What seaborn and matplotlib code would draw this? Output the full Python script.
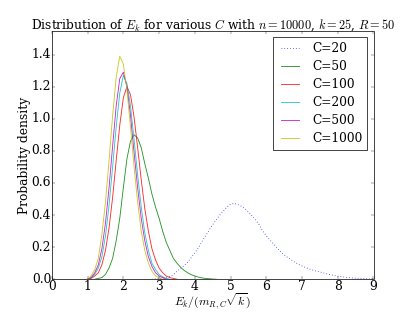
import matplotlib
matplotlib.use("Agg")
import matplotlib.pyplot as plt
import seaborn as sns
import pandas as pd

# Histogram values (probability density per E_k bin)
x_1000 = [1.0, 1.1, 1.2, 1.3, 1.4, 1.5, 1.6, 1.7, 1.8, 1.9, 2.0, 2.1, 2.2, 2.3, 2.4, 2.5,
          2.6, 2.7, 2.8, 2.9, 3.0, 3.1]
y_1000 = [0.0, 0.02, 0.06, 0.13, 0.28, 0.48, 0.74, 1.02, 1.26, 1.39, 1.34, 1.18, 0.95, 0.70,
          0.48, 0.30, 0.18, 0.10, 0.05, 0.02, 0.01, 0.0]

x_500 = [1.0, 1.1, 1.2, 1.3, 1.4, 1.5, 1.6, 1.7, 1.8, 1.9, 2.0, 2.1, 2.2, 2.3, 2.4, 2.5,
         2.6, 2.7, 2.8, 2.9, 3.0, 3.1, 3.2]
y_500 = [0.0, 0.01, 0.04, 0.09, 0.19, 0.35, 0.57, 0.83, 1.08, 1.25, 1.29, 1.20, 1.02, 0.79,
         0.57, 0.38, 0.24, 0.14, 0.08, 0.04, 0.02, 0.01, 0.0]

x_200 = [1.0, 1.1, 1.2, 1.3, 1.4, 1.5, 1.6, 1.7, 1.8, 1.9, 2.0, 2.1, 2.2, 2.3, 2.4, 2.5,
         2.6, 2.7, 2.8, 2.9, 3.0, 3.1, 3.2, 3.3]
y_200 = [0.0, 0.01, 0.03, 0.07, 0.14, 0.27, 0.46, 0.70, 0.95, 1.16, 1.27, 1.22, 1.08, 0.87,
         0.65, 0.45, 0.29, 0.18, 0.10, 0.06, 0.03, 0.015, 0.005, 0.0]

x_100 = [1.0, 1.1, 1.2, 1.3, 1.4, 1.5, 1.6, 1.7, 1.8, 1.9, 2.0, 2.1, 2.2, 2.3, 2.4, 2.5,
         2.6, 2.7, 2.8, 2.9, 3.0, 3.1, 3.2, 3.3, 3.4, 3.5]
y_100 = [0.0, 0.005, 0.02, 0.04, 0.09, 0.18, 0.32, 0.51, 0.74, 0.96, 1.13, 1.20, 1.15, 1.01,
         0.82, 0.62, 0.44, 0.30, 0.19, 0.12, 0.07, 0.04, 0.02, 0.01, 0.005, 0.0]

x_50 = [1.2, 1.3, 1.4, 1.5, 1.6, 1.7, 1.8, 1.9, 2.0, 2.1, 2.2, 2.3, 2.4, 2.5, 2.6, 2.7,
        2.8, 2.9, 3.0, 3.1, 3.2, 3.3, 3.4, 3.5, 3.6, 3.7, 3.8, 3.9, 4.0, 4.1, 4.2, 4.3,
        4.4, 4.5, 4.6]
y_50 = [0.0, 0.005, 0.01, 0.03, 0.07, 0.13, 0.24, 0.38, 0.57, 0.75, 0.86, 0.90, 0.88, 0.82,
        0.72, 0.63, 0.53, 0.45, 0.38, 0.30, 0.23, 0.18, 0.13, 0.10, 0.075, 0.055, 0.04,
        0.028, 0.02, 0.013, 0.008, 0.005, 0.003, 0.001, 0.0]

x_20 = [2.8, 2.9, 3.0, 3.1, 3.2, 3.3, 3.4, 3.5, 3.6, 3.7, 3.8, 3.9, 4.0, 4.1, 4.2, 4.3,
        4.4, 4.5, 4.6, 4.7, 4.8, 4.9, 5.0, 5.1, 5.2, 5.3, 5.4, 5.5, 5.6, 5.7, 5.8, 5.9,
        6.0, 6.1, 6.2, 6.3, 6.4, 6.5, 6.6, 6.7, 6.8, 6.9, 7.0, 7.1, 7.2, 7.3, 7.4, 7.5,
        7.6, 7.7, 7.8, 7.9, 8.0, 8.1, 8.2, 8.3, 8.4, 8.5, 8.6, 8.7, 8.8, 8.9, 9.0]
y_20 = [0.0, 0.002, 0.004, 0.007, 0.012, 0.018, 0.027, 0.05, 0.066, 0.085, 0.107, 0.134,
        0.165, 0.195, 0.235, 0.27, 0.305, 0.34, 0.37, 0.40, 0.425, 0.45, 0.468, 0.472,
        0.466, 0.455, 0.44, 0.42, 0.395, 0.37, 0.34, 0.30, 0.27, 0.245, 0.22, 0.195,
        0.172, 0.152, 0.135, 0.12, 0.105, 0.093, 0.082, 0.073, 0.064, 0.057, 0.05, 0.045,
        0.039, 0.033, 0.028, 0.023, 0.019, 0.016, 0.013, 0.01, 0.008, 0.006, 0.005,
        0.004, 0.003, 0.002, 0.001]

series = [
    ("C=20", x_20, y_20, "b", ":"),
    ("C=50", x_50, y_50, "g", "-"),
    ("C=100", x_100, y_100, "r", "-"),
    ("C=200", x_200, y_200, "c", "-"),
    ("C=500", x_500, y_500, "m", "-"),
    ("C=1000", x_1000, y_1000, "y", "-"),
]

plt.style.use("classic")
plt.rcParams.update({
    "font.family": ["DejaVu Serif"],
    "mathtext.fontset": "cm",
    "font.size": 17,
})

DPI = 52
fig = plt.figure(figsize=(415 / DPI, 313 / DPI), dpi=DPI)
ax = fig.add_subplot(111)

for label, xs, ys, color, ls in series:
    df = pd.DataFrame({"x": xs, "y": ys})
    sns.lineplot(data=df, x="x", y="y", color=color, linestyle=ls, linewidth=1.2,
                 alpha=0.85, label=label, ax=ax, sort=True)

ax.set_xlim(0, 9)
ax.set_ylim(0, 1.545)
ax.set_xticks(range(0, 10))
ax.set_yticks([0.0, 0.2, 0.4, 0.6, 0.8, 1.0, 1.2, 1.4])
ax.set_xlabel(r"$E_k/(m_{R,C}\sqrt{k})$", fontsize=16.5, labelpad=-1)
ax.set_ylabel("Probability density", fontsize=17, labelpad=1)
ax.set_title(r"Distribution of $E_k$ for various $C$ with $n=10000$, $k=25$, $R=50$",
             fontsize=17, pad=4)
ax.tick_params(direction="in", top=True, right=True, labelsize=17, pad=1)
ax.legend(loc="upper right", frameon=True, fancybox=False, labelspacing=0.4,
          prop={"family": "DejaVu Serif", "size": 17})

fig.subplots_adjust(left=0.125, right=0.9, bottom=0.108, top=0.9)
fig.savefig("out.png", dpi=DPI)
